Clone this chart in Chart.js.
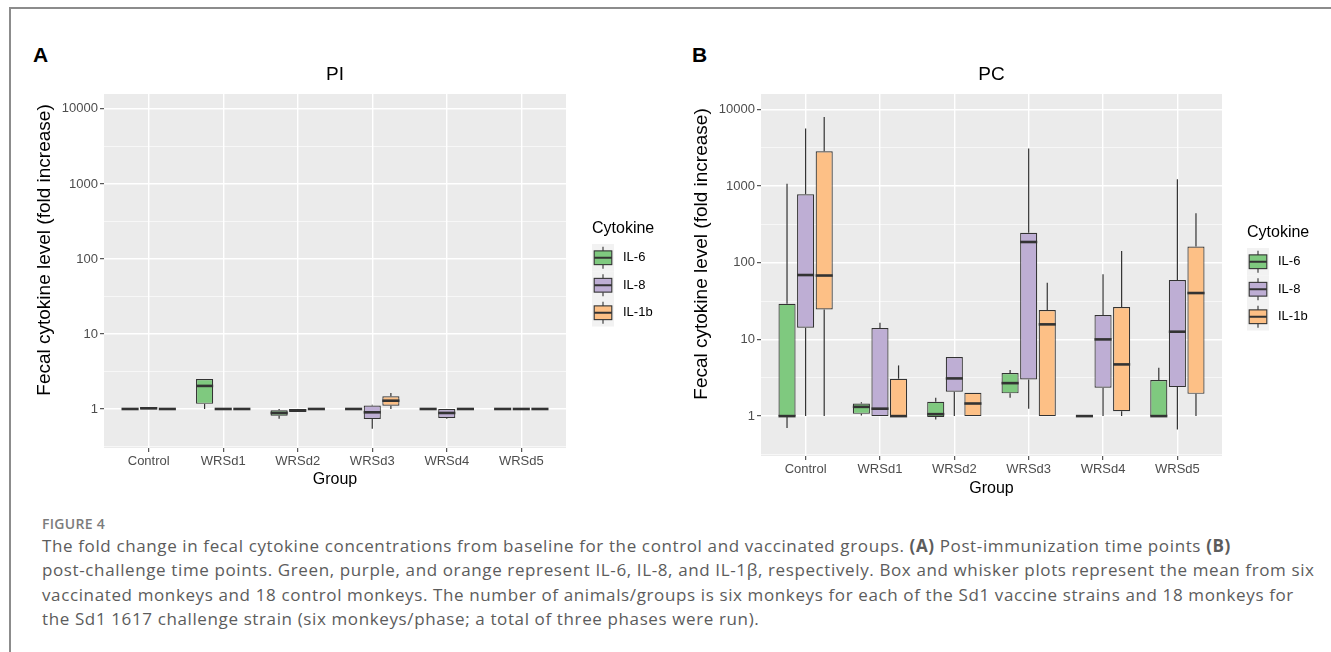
<!DOCTYPE html>
<html>
<head>
<meta charset="utf-8">
<title>Figure 4 - fecal cytokine fold change</title>
<script src="https://cdn.jsdelivr.net/npm/chart.js@4.4.0/dist/chart.umd.min.js"></script>
<style>
  body { margin: 0; width: 1331px; height: 652px; background: #fff; position: relative; overflow: hidden; }
  .frame { position: absolute; left: 9px; top: 7px; width: 1340px; height: 660px; border-left: 2px solid #8c8c8c; border-top: 2px solid #8c8c8c; }
  .tag { position: absolute; font-family: "Liberation Sans", Arial, sans-serif; font-weight: bold; font-size: 21px; line-height: 21px; color: #000; }
  canvas { position: absolute; top: 0; }
  #caption { position: absolute; left: 42px; top: 515px; font-family: "Open Sans", sans-serif; white-space: nowrap; }
  #caption .fig { font-size: 14px; line-height: 17px; font-weight: 600; color: #7c7c7c; letter-spacing: 0.3px; }
  #caption .txt { margin-top: 2px; font-size: 17px; line-height: 24.3px; color: #5c5c5c; letter-spacing: 0.62px; }
</style>
</head>
<body>
<div class="frame"></div>
<div class="tag" style="left:33px; top:44px;">A</div>
<div class="tag" style="left:692px; top:44px;">B</div>
<canvas id="chartPI" width="670" height="500" style="left:0px;"></canvas>
<canvas id="chartPC" width="660" height="500" style="left:662px;"></canvas>
<div id="caption">
  <div class="fig">FIGURE 4</div>
  <div class="txt">The fold change in fecal cytokine concentrations from baseline for the control and vaccinated groups. <b>(A)</b> Post-immunization time points <b>(B)</b><br>post-challenge time points. Green, purple, and orange represent IL-6, IL-8, and IL-1β, respectively. Box and whisker plots represent the mean from six<br>vaccinated monkeys and 18 control monkeys. The number of animals/groups is six monkeys for each of the Sd1 vaccine strains and 18 monkeys for<br>the Sd1 1617 challenge strain (six monkeys/phase; a total of three phases were run).</div>
</div>
<script>
// groups and series
const groups = ['Control', 'WRSd1', 'WRSd2', 'WRSd3', 'WRSd4', 'WRSd5'];
const cytokines = ['IL-6', 'IL-8', 'IL-1b'];
const yTicks = [1, 10, 100, 1000, 10000];

// five-number summaries per group: [min, q1, median, q3, max]
// PI = post-immunization
const piIL6 = [[1, 1, 1, 1, 1], [1, 1.17, 2.03, 2.51, 2.51], [0.74, 0.815, 0.885, 0.96, 1.0], [1, 1, 1, 1, 1], [1, 1, 1, 1, 1], [1, 1, 1, 1, 1]];
const piIL8 = [[0.99, 0.99, 1.02, 1.06, 1.06], [1, 1, 1, 1, 1], [0.91, 0.91, 0.96, 1.0, 1.0], [0.547, 0.736, 0.903, 1.11, 1.14], [0.743, 0.76, 0.885, 1.0, 1.0], [1, 1, 1, 1, 1]];
const piIL1b = [[1, 1, 1, 1, 1], [1, 1, 1, 1, 1], [1, 1, 1, 1, 1], [1, 1.108, 1.29, 1.475, 1.63], [1, 1, 1, 1, 1], [1, 1, 1, 1, 1]];
// PC = post-challenge
const pcIL6 = [[0.70, 1, 1, 29.2, 1070], [1.02, 1.07, 1.32, 1.46, 1.52], [0.905, 0.97, 1.06, 1.54, 1.73], [1.73, 1.98, 2.69, 3.64, 3.98], [1, 1, 1, 1, 1], [1, 1, 1, 2.95, 4.27]];
const pcIL8 = [[1, 14.2, 69, 780, 5600], [1, 1, 1.25, 14.1, 16.5], [1, 2.08, 3.1, 5.88, 5.88], [1.25, 3.01, 186, 246, 3070], [1, 2.34, 10, 20.8, 70.5], [0.67, 2.39, 12.6, 59.4, 1222]];
const pcIL1b = [[1, 24.6, 68, 2830, 7940], [1, 1, 1, 3.07, 4.58], [1, 1, 1.46, 2.01, 2.01], [1, 1, 15.7, 24.1, 54.8], [1, 1.16, 4.72, 26.4, 142], [1, 1.95, 40.2, 162, 440]];

const fills = ['#7FC97F', '#BEAED4', '#FDC086'];
const dodge = [-0.25, 0, 0.25];
const family = "'Liberation Sans', Arial, sans-serif";
const edge = '#333333';

function isMajor(v) {
  const l = Math.log10(v);
  return Math.abs(l - Math.round(l)) < 1e-6;
}
// major decades plus the half-decade minor lines that ggplot draws
const yGrid = [];
for (let e = -0.5; e <= 4; e += 0.5) yGrid.push(Math.pow(10, e));

// whiskers under the boxes, medians on top
const boxParts = {
  id: 'boxParts',
  beforeDatasetsDraw(chart) {
    const ctx = chart.ctx, ys = chart.scales.y;
    ctx.save();
    ctx.strokeStyle = edge;
    ctx.lineWidth = 1.2;
    chart.data.datasets.forEach((ds, d) => {
      const meta = chart.getDatasetMeta(d);
      ds.stats.forEach((s, i) => {
        const x = meta.data[i].x;
        ctx.beginPath();
        ctx.moveTo(x, ys.getPixelForValue(s[0]));
        ctx.lineTo(x, ys.getPixelForValue(s[1]));
        ctx.moveTo(x, ys.getPixelForValue(s[3]));
        ctx.lineTo(x, ys.getPixelForValue(s[4]));
        ctx.stroke();
      });
    });
    ctx.restore();
  },
  afterDatasetsDraw(chart) {
    const ctx = chart.ctx, ys = chart.scales.y;
    ctx.save();
    ctx.strokeStyle = edge;
    ctx.lineWidth = 2.6;
    chart.data.datasets.forEach((ds, d) => {
      const meta = chart.getDatasetMeta(d);
      ds.stats.forEach((s, i) => {
        const el = meta.data[i];
        const ym = ys.getPixelForValue(s[2]);
        ctx.beginPath();
        ctx.moveTo(el.x - el.width / 2, ym);
        ctx.lineTo(el.x + el.width / 2, ym);
        ctx.stroke();
      });
    });
    ctx.restore();
  }
};

// grey panel, rotated y title and the boxplot legend
const decor = {
  id: 'decor',
  beforeDraw(chart) {
    const a = chart.chartArea, ctx = chart.ctx;
    ctx.save();
    ctx.fillStyle = '#EBEBEB';
    ctx.fillRect(a.left, a.top, a.right - a.left, a.bottom - a.top);
    ctx.restore();
  },
  afterDraw(chart, args, o) {
    const ctx = chart.ctx;
    ctx.save();
    ctx.fillStyle = '#000';
    ctx.font = '19px ' + family;
    ctx.textAlign = 'center';
    ctx.textBaseline = 'middle';
    ctx.translate(o.titleX, o.titleY);
    ctx.rotate(-Math.PI / 2);
    ctx.fillText('Fecal cytokine level (fold increase)', 0, 0);
    ctx.restore();

    ctx.save();
    ctx.font = '16px ' + family;
    ctx.fillStyle = '#000';
    ctx.textAlign = 'left';
    ctx.textBaseline = 'middle';
    ctx.fillText('Cytokine', o.keyX, o.keyY - 15);
    const kw = 22, kh = 27.5;
    cytokines.forEach((c, k) => {
      const top = o.keyY + k * kh;
      ctx.fillStyle = '#F2F2F2';
      ctx.fillRect(o.keyX, top, kw, kh);
      ctx.strokeStyle = edge;
      ctx.lineWidth = 1.1;
      const cx = o.keyX + kw / 2;
      ctx.beginPath();
      ctx.moveTo(cx, top + kh * 0.1); ctx.lineTo(cx, top + kh * 0.25);
      ctx.moveTo(cx, top + kh * 0.75); ctx.lineTo(cx, top + kh * 0.9);
      ctx.stroke();
      ctx.fillStyle = fills[k];
      const bx = o.keyX + kw * 0.1, bw = kw * 0.8, by = top + kh * 0.25, bh = kh * 0.5;
      ctx.fillRect(bx, by, bw, bh);
      ctx.strokeRect(bx, by, bw, bh);
      ctx.lineWidth = 2;
      ctx.beginPath();
      ctx.moveTo(bx, top + kh / 2); ctx.lineTo(bx + bw, top + kh / 2);
      ctx.stroke();
      ctx.fillStyle = '#000';
      ctx.font = '13px ' + family;
      ctx.fillText(c, o.keyX + kw + 9, top + kh / 2);
    });
    ctx.restore();
  }
};

function makePanel(id, title, stats, box) {
  return new Chart(document.getElementById(id), {
    type: 'bar',
    data: {
      datasets: cytokines.map((c, k) => ({
        label: c,
        data: groups.map((g, i) => ({ x: i + dodge[k], y: [stats[k][i][1], stats[k][i][3]] })),
        stats: stats[k],
        backgroundColor: fills[k],
        borderColor: edge,
        borderWidth: 1.2,
        borderSkipped: false,
        grouped: false,
        categoryPercentage: 1,
        barPercentage: 0.92
      }))
    },
    options: {
      responsive: false,
      animation: false,
      events: [],
      layout: { padding: { left: 0, right: box.padRight, top: 0, bottom: 0 } },
      plugins: {
        legend: { display: false },
        tooltip: { enabled: false },
        title: {
          display: true, text: title, color: '#000', fullSize: false,
          font: { family: family, size: 19, weight: 'normal', lineHeight: 1.2 },
          padding: { top: 63.6, bottom: 7.6 }
        },
        decor: box.decor
      },
      scales: {
        x: {
          type: 'linear', min: -0.6, max: 5.6, offset: false, bounds: 'data',
          afterBuildTicks: s => { s.ticks = groups.map((g, i) => ({ value: i })); },
          afterFit: s => { s.height = box.xHeight; },
          ticks: { callback: v => groups[v], color: '#4D4D4D', font: { family: family, size: 13 }, padding: 2, autoSkip: false, maxRotation: 0 },
          grid: { offset: false, color: '#FFFFFF', lineWidth: 1.4, tickLength: 4, tickColor: edge, tickWidth: 1 },
          border: { display: false },
          title: { display: true, text: 'Group', color: '#000', font: { family: family, size: 16 }, padding: { top: 0, bottom: box.groupPad } }
        },
        y: {
          type: 'logarithmic', min: 0.302, max: 15800, bounds: 'data',
          afterBuildTicks: s => { s.ticks = yGrid.map(v => ({ value: v })); },
          afterFit: s => { s.width = box.left; },
          ticks: { callback: v => (isMajor(v) && yTicks.includes(Math.round(v))) ? String(Math.round(v)) : '', color: '#4D4D4D', font: { family: family, size: 13 }, padding: 2, autoSkip: false },
          grid: {
            offset: false,
            color: '#FFFFFF',
            lineWidth: c => (c.tick && isMajor(c.tick.value)) ? 1.4 : 0.6,
            tickLength: 4,
            tickColor: c => (c.tick && isMajor(c.tick.value) && c.tick.value >= 1) ? edge : 'rgba(0,0,0,0)',
            tickWidth: 1
          },
          border: { display: false }
        }
      }
    },
    plugins: [decor, boxParts]
  });
}

makePanel('chartPI', 'PI', [piIL6, piIL8, piIL1b], {
  left: 104, padRight: 104, xHeight: 52, groupPad: 10.4,
  decor: { titleX: 45, titleY: 250, keyX: 592, keyY: 244 }
});
makePanel('chartPC', 'PC', [pcIL6, pcIL8, pcIL1b], {
  left: 99, padRight: 100, xHeight: 44, groupPad: 1.4,
  decor: { titleX: 40, titleY: 254, keyX: 585, keyY: 248 }
});
</script>
</body>
</html>
